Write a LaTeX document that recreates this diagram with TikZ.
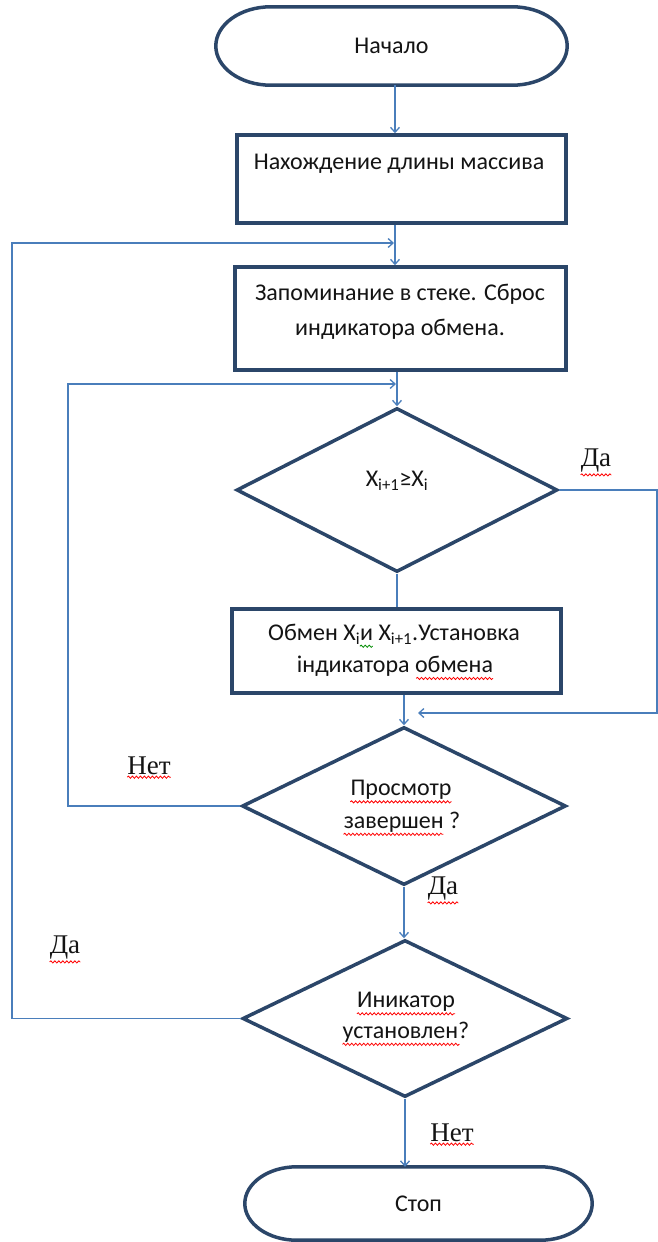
\documentclass[tikz,border=0pt]{standalone}
\usepackage{fontspec}
\setmainfont{Carlito}
\newfontfamily\labelfont{Liberation Serif}
\usetikzlibrary{shapes.geometric,arrows.meta,decorations.pathmorphing}

\definecolor{outline}{HTML}{2B4669}
\definecolor{conn}{HTML}{4A7EBB}
\definecolor{ink}{HTML}{141414}

\newcommand\boxfont{\fontsize{24}{32}\selectfont}
\newlength\swapleft
\newlength\swapright

% terminal outline: straight top/bottom with elliptical ends
\newcommand\terminal[3]{%
  \draw[termline]
    ([xshift=#2pt]#1.north west) -- ([xshift=-#2pt]#1.north east)
    .. controls ([xshift={-0.4477*#2pt}]#1.north east) and ([yshift={0.5523*#3pt}]#1.east) .. (#1.east)
    .. controls ([yshift={-0.5523*#3pt}]#1.east) and ([xshift={-0.4477*#2pt}]#1.south east) .. ([xshift=-#2pt]#1.south east)
    -- ([xshift=#2pt]#1.south west)
    .. controls ([xshift={0.4477*#2pt}]#1.south west) and ([yshift={-0.5523*#3pt}]#1.west) .. (#1.west)
    .. controls ([yshift={0.5523*#3pt}]#1.west) and ([xshift={0.4477*#2pt}]#1.north west) .. ([xshift=#2pt]#1.north west)
    -- cycle;}

\begin{document}
\settowidth\swapleft{\boxfont Обмен X\textsubscript{i}}
\settowidth\swapright{\boxfont Обмен X\textsubscript{i}и}
\begin{tikzpicture}[x=1pt,y=-1pt,
  font=\boxfont, text=ink,
  outl/.style={draw=outline,line width=3.5pt},
  blk/.style={outl,rectangle,inner sep=0pt,align=center},
  dia/.style={outl,diamond,inner sep=0pt},
  termline/.style={outl},
  termnode/.style={rectangle,inner sep=0pt},
  txt/.style={align=center,inner sep=0pt},
  conn/.style={draw=conn,line width=1.3pt},
  arr/.style={conn,-{Straight Barb[length=5pt,width=9pt]}},
  ans/.style={font=\labelfont\fontsize{27}{27}\selectfont,inner sep=0pt},
  redwave/.style={draw=red,line width=0.8pt,decorate,decoration={snake,amplitude=1.1pt,segment length=4pt}},
  greenwave/.style={redwave,draw=green!55!black}
]
\useasboundingbox (0,0) rectangle (658,1242);
\fill[white] (0,0) rectangle (658,1242);

% blocks
\node[termnode,minimum width=351pt,minimum height=78pt] (start) at (391.5,46) {Начало};
\terminal{start}{55}{39}

\node[blk,minimum width=329pt,minimum height=88pt] (len) at (401.5,179) {};
\node[txt] (lentext) at (399,164) {Нахождение длины массива};

\node[blk,minimum width=331pt,minimum height=103pt] (push) at (400.5,318.5) {};
\node[txt,font=\fontsize{24}{35}\selectfont] (pushtext) at (400,312) {Запоминание в стеке. Сброс\\индикатора обмена.};

\node[dia,minimum width=321pt,minimum height=164pt] (cmp) at (397,490) {};
\node[txt] (cmptext) at (397,481) {X\textsubscript{i+1}≥X\textsubscript{i}};

\node[blk,minimum width=329pt,minimum height=84pt] (swap) at (396.5,651) {};
\node[txt] (swap1) at (394,634) {Обмен X\textsubscript{i}и X\textsubscript{i+1}.Установка};
\node[txt] (swap2) at (395,666) {індикатора обмена};
\draw[greenwave] ([xshift=\swapleft,yshift=-2pt]swap1.south west) -- ([xshift=\swapright,yshift=-2pt]swap1.south west);
\draw[redwave] ([xshift=-77pt,yshift=-2pt]swap2.south east) -- ([yshift=-2pt]swap2.south east);

\node[dia,minimum width=324pt,minimum height=158pt] (done) at (404,806) {};
\node[txt] (done1) at (401,790) {Просмотр};
\node[txt] (done2) at (402,822) {завершен ?};
\draw[redwave] ([yshift=-2pt]done1.south west) -- ([yshift=-2pt]done1.south east);
\draw[redwave] ([yshift=-2pt]done2.south west) -- ([xshift=-17pt,yshift=-2pt]done2.south east);

\node[dia,minimum width=325pt,minimum height=157pt] (flag) at (405,1018.5) {};
\node[txt] (flag1) at (406,1002) {Иникатор};
\node[txt] (flag2) at (406,1032) {установлен?};
\draw[redwave] ([yshift=-2pt]flag1.south west) -- ([yshift=-2pt]flag1.south east);
\draw[redwave] ([yshift=-2pt]flag2.south west) -- ([xshift=-10pt,yshift=-2pt]flag2.south east);

\node[termnode,minimum width=347pt,minimum height=73pt] (stop) at (418.5,1203.5) {Стоп};
\terminal{stop}{52}{36.5}

% junction points of the return lines
\coordinate (j1) at (395,243);
\coordinate (j2) at (397,384);
\coordinate (j3) at (418,713);
\coordinate (lx1) at (12,243);
\coordinate (lx2) at (68,384);
\coordinate (rx) at (657,713);

% main flow
\draw[arr] (start.south -| j1) -- (len.north -| j1);
\draw[conn] (len.south -| j1) -- (j1);
\draw[arr] (j1) -- (push.north -| j1);
\draw[conn] (push.south -| j2) -- (j2);
\draw[arr] (j2) -- (cmp.north -| j2);
\draw[conn] (cmp.south) -- (cmp.south |- swap.north);
\draw[arr] (swap.south -| done.north) -- (done.north);
\draw[arr] (done.south) -- (done.south |- flag.north);
\draw[arr] (flag.south) -- (flag.south |- stop.north);

% return lines
\draw[arr,shorten >=1pt] (flag.west) -| (lx1) -- (j1);
\draw[arr,shorten >=1pt] (done.west) -| (lx2) -- (j2);
\draw[arr] (cmp.east) -| (rx) -- (j3);

% branch labels
\node[ans] (yes1) at (596,461) {Да};
\node[ans] (no1) at (149,766) {Нет};
\node[ans] (yes2) at (443,889) {Да};
\node[ans] (yes3) at (65,948) {Да};
\node[ans] (no2) at (452,1133) {Нет};
\foreach \n in {yes1,no1,yes2,yes3,no2}
  \draw[redwave] ([yshift=-2pt]\n.south west) -- ([yshift=-2pt]\n.south east);
\end{tikzpicture}
\end{document}
